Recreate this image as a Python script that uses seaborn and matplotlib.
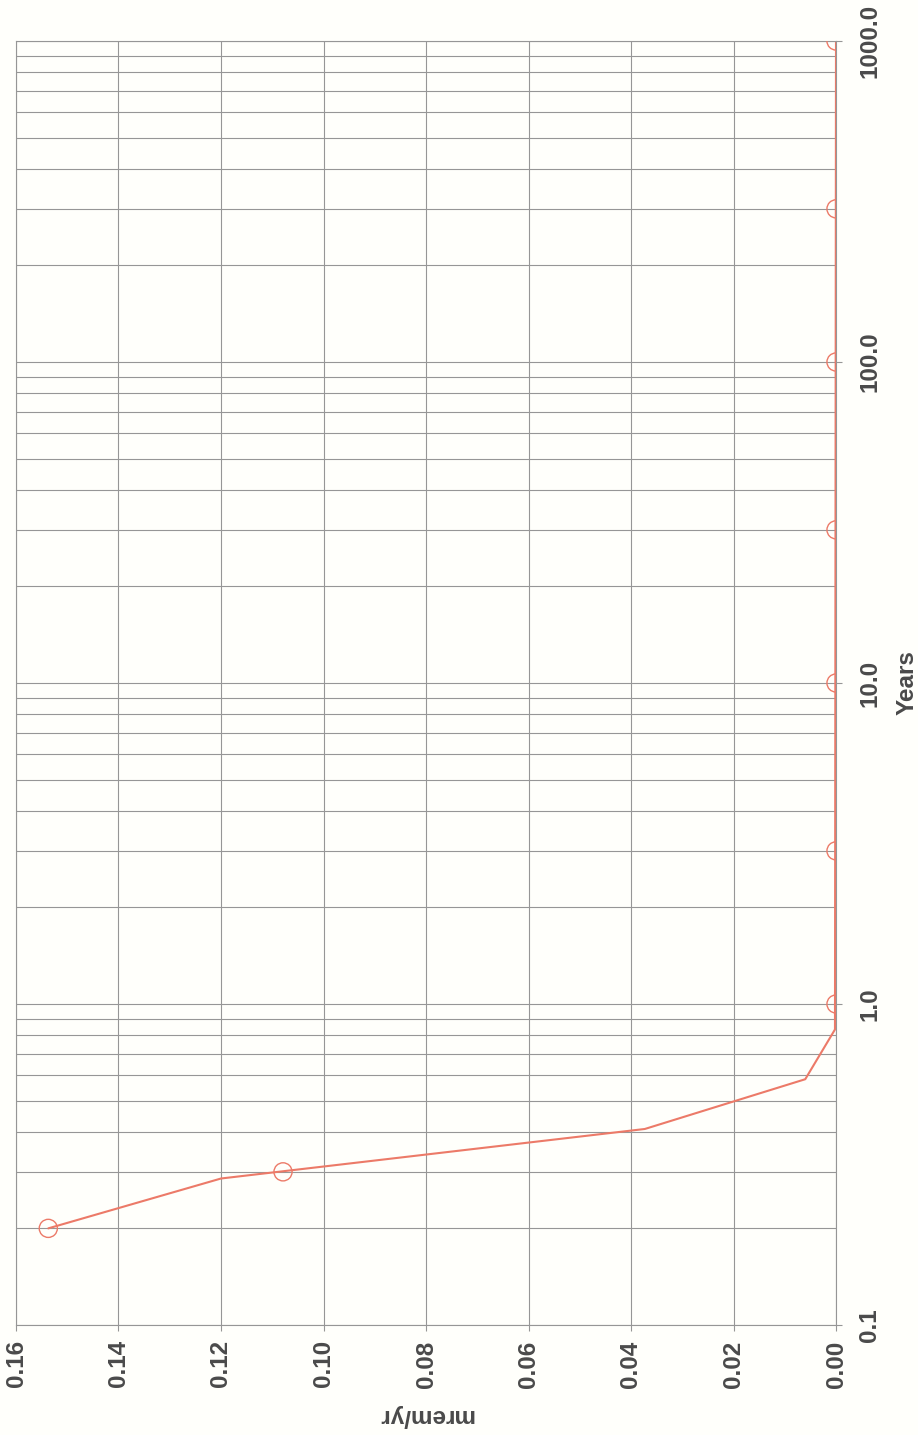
import matplotlib
matplotlib.use("Agg")
import matplotlib.pyplot as plt
import matplotlib.ticker as mticker
import seaborn as sns

years = [0.2, 0.286, 0.408, 0.583, 0.833, 1000.0]
dose = [0.1537, 0.1200, 0.0373, 0.0060, 0.0002, 0.0]

# Open-circle markers along the curve
marker_years = [0.2, 0.3, 1.0, 3.0, 10.0, 30.0, 100.0, 300.0, 1000.0]
marker_dose = [0.1537, 0.1079, 0.0, 0.0, 0.0, 0.0, 0.0, 0.0, 0.0]

# Axis ticks
dose_ticks = [0.16, 0.14, 0.12, 0.10, 0.08, 0.06, 0.04, 0.02, 0.00]
dose_labels = ["0.16", "0.14", "0.12", "0.10", "0.08", "0.06", "0.04", "0.02", "0.00"]
year_ticks = [0.1, 1.0, 10.0, 100.0, 1000.0]
year_labels = ["0.1", "1.0", "10.0", "100.0", "1000.0"]


def main():
    sns.set_style("ticks")
    plt.rcParams["font.family"] = ["Liberation Sans", "DejaVu Sans"]

    W, H = 918, 1435
    fig = plt.figure(figsize=(W / 100, H / 100), dpi=100)
    fig.patch.set_facecolor("#fffffb")
    left, right, top, bottom = 16, 836, 41, 1325
    ax = fig.add_axes([left / W, (H - bottom) / H, (right - left) / W, (bottom - top) / H])
    ax.set_facecolor("#fffffb")

    red = "#ec7a68"
    grid_c = "#969696"
    text_c = "#4a4a4a"

    ax.set_yscale("log")
    sns.lineplot(x=dose, y=years, sort=False, estimator=None, ax=ax,
                 color=red, linewidth=1.5)
    sns.scatterplot(x=marker_dose, y=marker_years, ax=ax, marker="o", s=170,
                    facecolor="none", edgecolor=red, linewidth=1.0, zorder=3)

    ax.set_xlim(0.16, 0.0)
    ax.set_ylim(0.1, 1000.0)

    # x axis (dose) at the bottom
    ax.xaxis.set_major_locator(mticker.FixedLocator(dose_ticks))
    ax.xaxis.set_major_formatter(mticker.FixedFormatter(dose_labels))
    # y axis (years) on the right
    ax.yaxis.tick_right()
    ax.yaxis.set_label_position("right")
    ax.yaxis.set_major_locator(mticker.FixedLocator(year_ticks))
    ax.yaxis.set_major_formatter(mticker.FixedFormatter(year_labels))
    ax.yaxis.set_minor_locator(mticker.LogLocator(base=10, subs=range(2, 10)))
    ax.yaxis.set_minor_formatter(mticker.NullFormatter())

    ax.grid(which="major", axis="x", color=grid_c, linewidth=0.8)
    ax.grid(which="both", axis="y", color=grid_c, linewidth=0.8)
    for s in ax.spines.values():
        s.set_color(grid_c)
        s.set_linewidth(0.8)

    font = dict(fontsize=17.5, fontweight="bold", color=text_c)
    ax.tick_params(axis="x", which="major", direction="out", length=4, width=0.8,
                   color=grid_c, pad=7, labelrotation=90, labelsize=17.5,
                   labelcolor=text_c)
    ax.tick_params(axis="y", which="major", direction="out", length=4.5, width=0.8,
                   color=grid_c, pad=11.5, labelrotation=90, labelsize=17.5,
                   labelcolor=text_c, left=False, right=True)
    ax.tick_params(axis="y", which="minor", length=0, left=False, right=False)
    for lab in ax.get_xticklabels() + ax.get_yticklabels():
        lab.set_fontweight("bold")
    for lab in ax.get_yticklabels():
        lab.set_verticalalignment("center")

    ax.set_xlabel("mrem/yr", rotation=180, labelpad=12, **font)
    ax.set_ylabel("Years", rotation=90, labelpad=10, **font)

    fig.savefig("out.png", dpi=100, facecolor=fig.get_facecolor())
    plt.close(fig)


if __name__ == "__main__":
    main()
